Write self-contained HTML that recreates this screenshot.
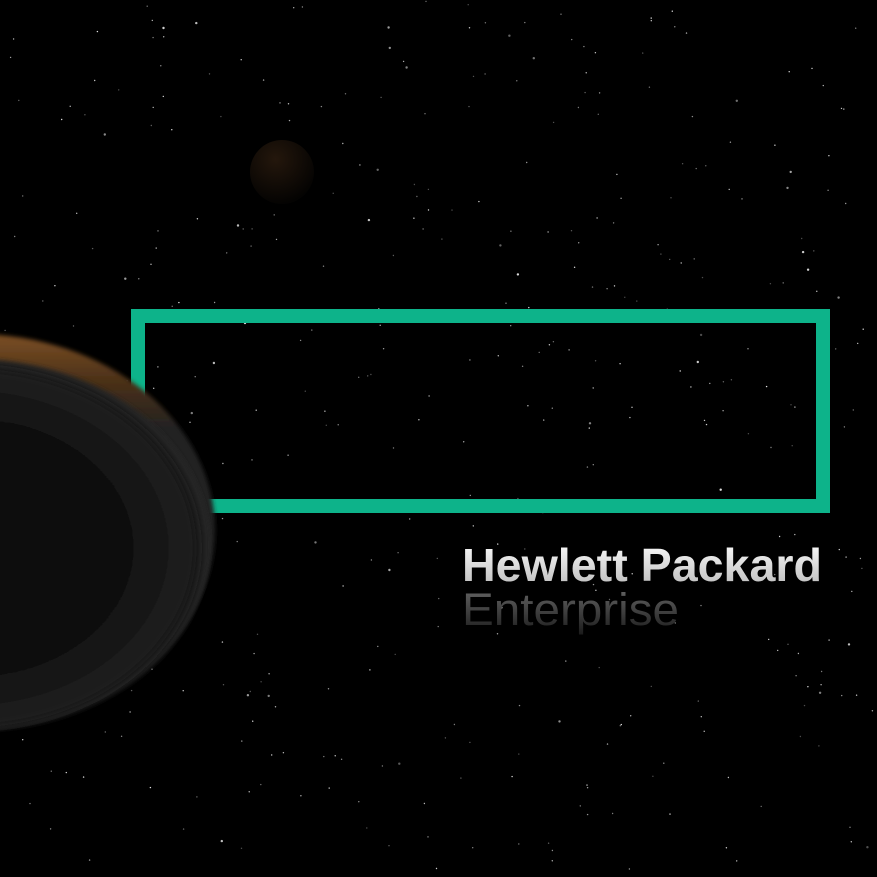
<!DOCTYPE html>
<html><head><meta charset="utf-8">
<style>
html,body{margin:0;padding:0;background:#000;}
#scene{position:relative;width:877px;height:877px;overflow:hidden;background:#000;font-family:"Liberation Sans",sans-serif;}
svg{position:absolute;left:0;top:0;}
</style></head>
<body>
<div id="scene">
<svg id="svg" width="877" height="877" viewBox="0 0 877 877">
  <defs>
    <radialGradient id="planetG" cx="0.5" cy="0.5" r="0.5">
      <stop offset="0" stop-color="#050505"/>
      <stop offset="0.8" stop-color="#131313"/>
      <stop offset="0.95" stop-color="#222"/>
      <stop offset="1" stop-color="#0a0a0a"/>
    </radialGradient>
    <linearGradient id="orangeG" gradientUnits="userSpaceOnUse" x1="0" y1="335" x2="0" y2="430">
      <stop offset="0" stop-color="#7a4e24"/>
      <stop offset="0.5" stop-color="#4a3018"/>
      <stop offset="1" stop-color="#222" stop-opacity="1"/>
    </linearGradient>
    <radialGradient id="moonG" cx="0.4" cy="0.3" r="0.7">
      <stop offset="0" stop-color="#24170c"/>
      <stop offset="1" stop-color="#040302"/>
    </radialGradient>
    <linearGradient id="txt1" x1="0" y1="0" x2="0" y2="1">
      <stop offset="0" stop-color="#ffffff"/>
      <stop offset="1" stop-color="#b8b8b8"/>
    </linearGradient>
    <linearGradient id="txt2" x1="0" y1="0" x2="0" y2="1">
      <stop offset="0" stop-color="#6a6a6a"/>
      <stop offset="1" stop-color="#1a1a1a"/>
    </linearGradient>
    <filter id="blur"><feGaussianBlur stdDeviation="2"/></filter>
    <filter id="blur2"><feGaussianBlur stdDeviation="5"/></filter>
  </defs>
  <g id="stars"></g>
  <circle cx="282" cy="172" r="32" fill="url(#moonG)"/>
  <rect x="138" y="316" width="685" height="190" fill="none" stroke="#0db38a" stroke-width="14"/>
  <g>
    <ellipse cx="-25" cy="530" rx="240" ry="196" fill="url(#orangeG)" filter="url(#blur)"/>
    <ellipse cx="-28" cy="545" rx="238" ry="186" fill="#262626" filter="url(#blur)"/>
    <ellipse cx="-32" cy="548" rx="232" ry="182" fill="url(#planetG)" filter="url(#blur2)"/>
  </g>
  <text x="462" y="581" font-family="Liberation Sans, sans-serif" font-weight="bold" font-size="46" fill="url(#txt1)" textLength="360" lengthAdjust="spacingAndGlyphs">Hewlett Packard</text>
  <text x="462" y="625" font-family="Liberation Sans, sans-serif" font-size="45" fill="url(#txt2)" textLength="217" lengthAdjust="spacingAndGlyphs">Enterprise</text>
</svg>
</div>
<script>
var g=document.getElementById('stars');
var seed=12345;
function rnd(){seed=(seed*1103515245+12345)%2147483648;return seed/2147483648;}
for(var i=0;i<420;i++){
  var c=document.createElementNS('http://www.w3.org/2000/svg','circle');
  
  
  c.setAttribute('cx',(rnd()*877).toFixed(1));
  c.setAttribute('cy',(rnd()*877).toFixed(1));
  var s=rnd();
  c.setAttribute('r',s>0.9?1.2:0.7);
  c.setAttribute('fill','#fff');
  c.setAttribute('opacity',(0.3+rnd()*0.6).toFixed(2));
  g.appendChild(c);
}
</script>
</body></html>
